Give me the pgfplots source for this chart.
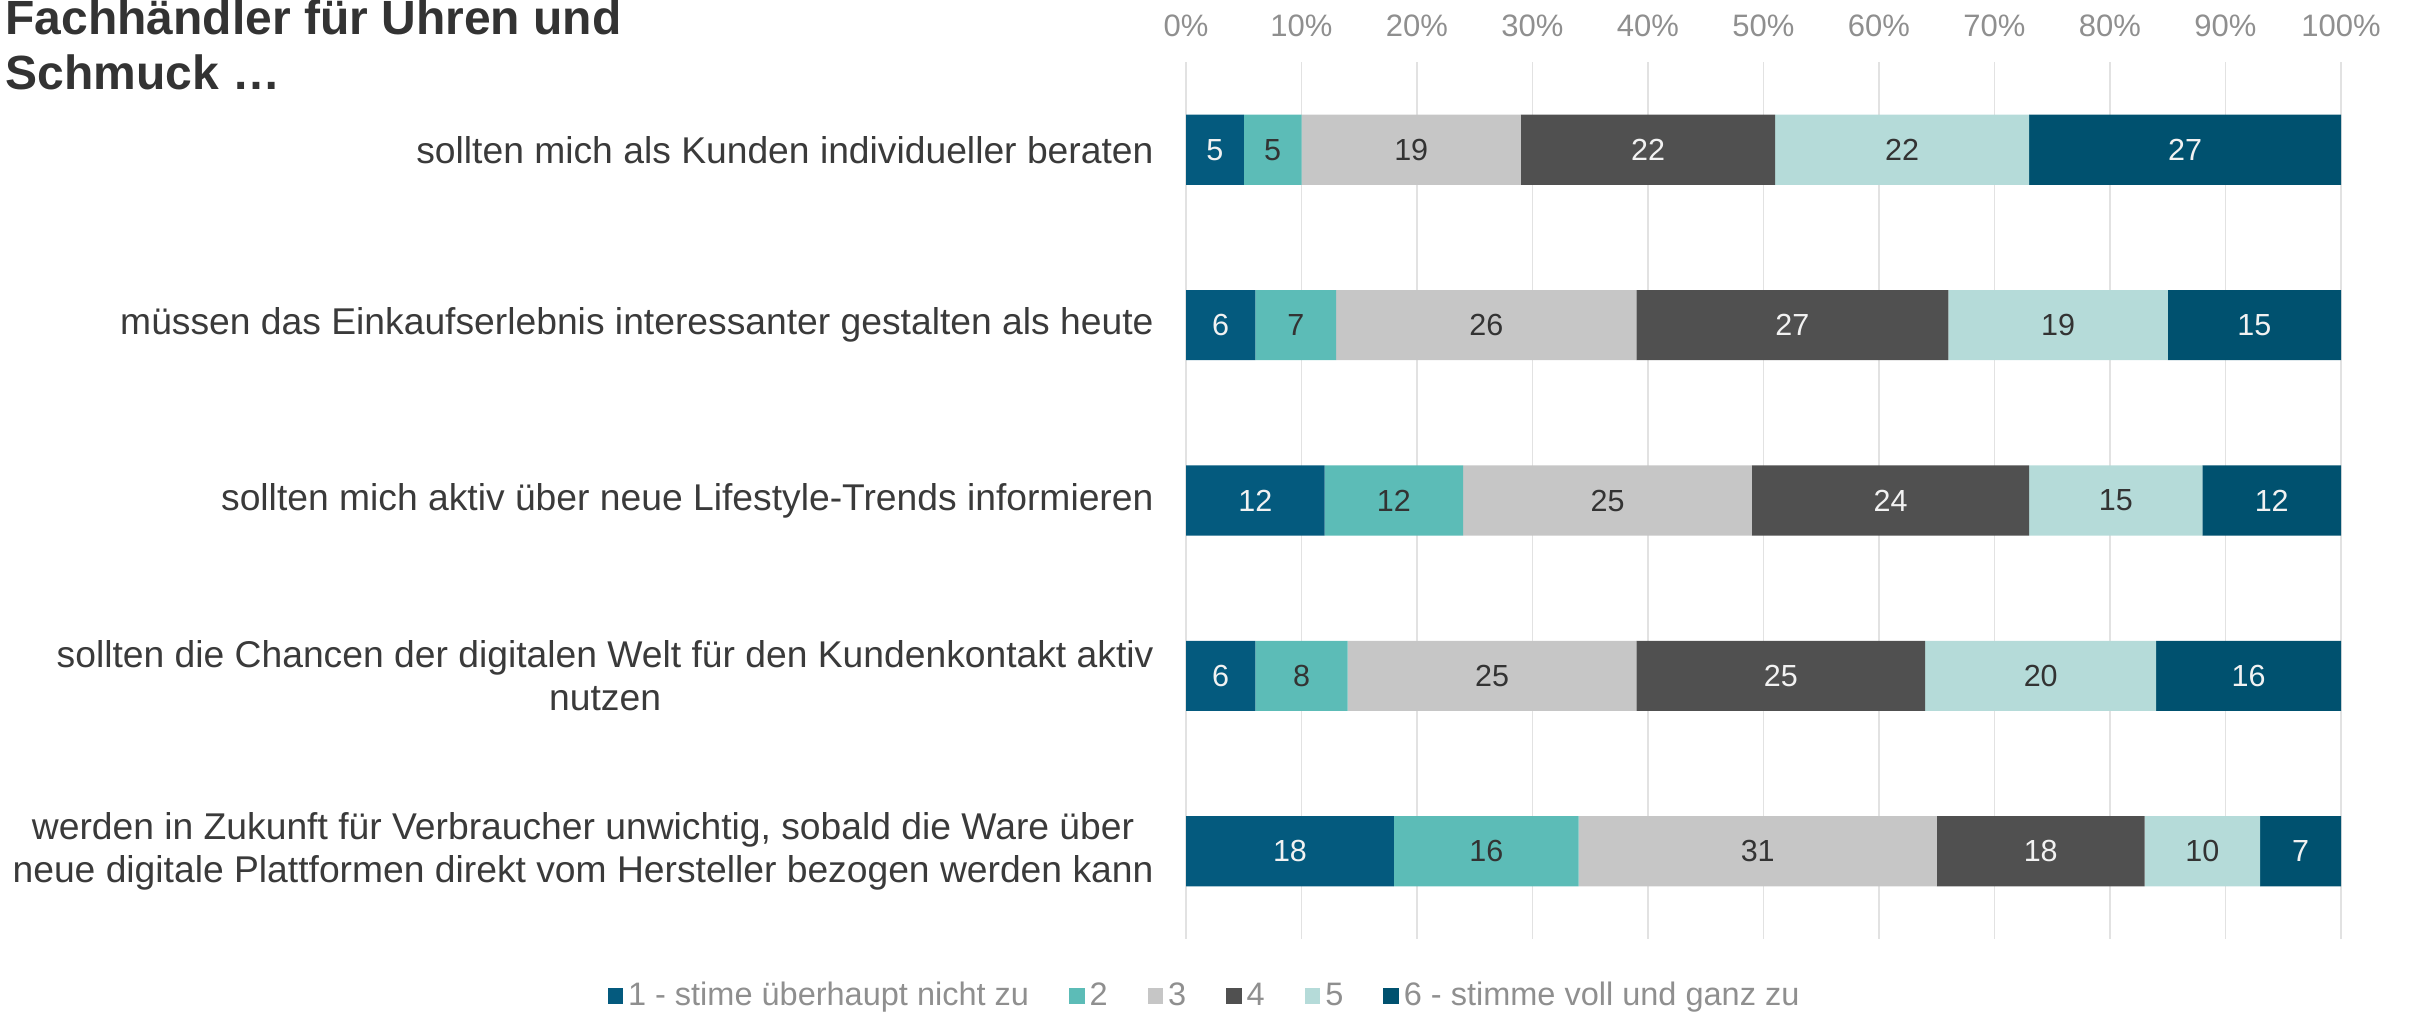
\documentclass[border=0pt]{standalone}
\usepackage{pgfplots}
\pgfplotsset{compat=1.18}
\usepackage{pgfplotstable}
\usepackage{fontspec}
\setmainfont{Liberation Sans}
\definecolor{c1}{HTML}{045A7E}
\definecolor{c2}{HTML}{5CBCB7}
\definecolor{c3}{HTML}{C6C6C6}
\definecolor{c4}{HTML}{505050}
\definecolor{c5}{HTML}{B5DBD9}
\definecolor{c6}{HTML}{00516F}
\definecolor{titlec}{HTML}{333333}
\definecolor{labc}{HTML}{3A3A3A}
\definecolor{tickc}{HTML}{8F8F8F}
\definecolor{gridc}{HTML}{E2E2E2}
\definecolor{whitec}{HTML}{F2F2F2}
\definecolor{darkc}{HTML}{333333}
\pgfplotsset{/pgf/number format/assume math mode=true,
  sq/.style={legend image code/.code={\fill[##1] (0pt,-3.2pt) rectangle (6.2pt,3.2pt);}}}
\pgfplotstableread{
y c1 c2 c3 c4 c5 c6
4 5 5 19 22 22 27
3 6 7 26 27 19 15
2 12 12 25 24 15 12
1 6 8 25 25 20 16
0 18 16 31 18 10 7
}\data
\begin{document}
\begin{tikzpicture}
\path[use as bounding box] (0,0) rectangle (965.2pt,-404.4pt);
\node[anchor=base west, inner sep=0pt, text=titlec, font=\fontsize{19.2}{22}\selectfont\bfseries] at (2pt,-13.6pt) {Fachhändler für Uhren und};
\node[anchor=base west, inner sep=0pt, text=titlec, font=\fontsize{19.2}{22}\selectfont\bfseries] at (2pt,-35.7pt) {Schmuck …};
\begin{axis}[
  at={(474.4pt,-375.6pt)}, anchor=south west,
  scale only axis, width=462pt, height=350.8pt,
  xbar stacked, bar width=0.4,
  xmin=0, xmax=100, ymin=-0.5, ymax=4.5,
  xtick={0,10,...,100},
  xticklabel pos=right,
  xticklabel={\pgfmathprintnumber{\tick}\%},
  xticklabel style={anchor=base, yshift=10.4pt, text=tickc, font=\fontsize{12.4}{14}\selectfont, inner sep=0pt},
  ytick={0,1,2,3,4},
  yticklabels={{werden in Zukunft für Verbraucher unwichtig, sobald die Ware über\\neue digitale Plattformen direkt vom Hersteller bezogen werden kann},
    {sollten die Chancen der digitalen Welt für den Kundenkontakt aktiv\\nutzen},
    {sollten mich aktiv über neue Lifestyle-Trends informieren},
    {müssen das Einkaufserlebnis interessanter gestalten als heute},
    {sollten mich als Kunden individueller beraten}},
  yticklabel style={anchor=east, align=center, inner sep=0pt, xshift=-12.8pt, text=labc, font=\fontsize{14.9}{17}\selectfont},
  axis line style={draw=none},
  major tick length=0pt,
  xmajorgrids, grid style={draw=gridc, line width=0.6pt},
  legend columns=6,
  legend style={at={(0.0173,-0.065)}, anchor=center, draw=none, fill=none, inner sep=0pt,
    font=\fontsize{13}{15}\selectfont, text=tickc,
    /tikz/every even column/.append style={column sep=14pt}},
]
\addplot[fill=c1, draw=none, sq] table[x=c1, y=y]{\data};
\addlegendentry{1 - stime überhaupt nicht zu}
\addplot[fill=c2, draw=none, sq] table[x=c2, y=y]{\data};
\addlegendentry{2}
\addplot[fill=c3, draw=none, sq] table[x=c3, y=y]{\data};
\addlegendentry{3}
\addplot[fill=c4, draw=none, sq] table[x=c4, y=y]{\data};
\addlegendentry{4}
\addplot[fill=c5, draw=none, sq] table[x=c5, y=y]{\data};
\addlegendentry{5}
\addplot[fill=c6, draw=none, sq] table[x=c6, y=y]{\data};
\addlegendentry{6 - stimme voll und ganz zu}
\end{axis}
\begin{axis}[
  at={(474.4pt,-375.6pt)}, anchor=south west,
  scale only axis, width=462pt, height=350.8pt,
  xmin=0, xmax=100, ymin=-0.5, ymax=4.5,
  hide axis,
  point meta=explicit,
  nodes near coords,
  nodes near coords style={anchor=center, inner sep=0pt, font=\fontsize{12.2}{14}\selectfont},
]
\addplot[only marks, mark=*, mark size=0pt, mark options={draw=none,fill=none}, nodes near coords style={text=whitec}]
  table[x expr=\thisrow{c1}/2, y=y, meta=c1]{\data};
\addplot[only marks, mark=*, mark size=0pt, mark options={draw=none,fill=none}, nodes near coords style={text=darkc}]
  table[x expr=\thisrow{c1}+\thisrow{c2}/2, y=y, meta=c2]{\data};
\addplot[only marks, mark=*, mark size=0pt, mark options={draw=none,fill=none}, nodes near coords style={text=darkc}]
  table[x expr=\thisrow{c1}+\thisrow{c2}+\thisrow{c3}/2, y=y, meta=c3]{\data};
\addplot[only marks, mark=*, mark size=0pt, mark options={draw=none,fill=none}, nodes near coords style={text=whitec}]
  table[x expr=\thisrow{c1}+\thisrow{c2}+\thisrow{c3}+\thisrow{c4}/2, y=y, meta=c4]{\data};
\addplot[only marks, mark=*, mark size=0pt, mark options={draw=none,fill=none}, nodes near coords style={text=darkc}]
  table[x expr=\thisrow{c1}+\thisrow{c2}+\thisrow{c3}+\thisrow{c4}+\thisrow{c5}/2, y=y, meta=c5]{\data};
\addplot[only marks, mark=*, mark size=0pt, mark options={draw=none,fill=none}, nodes near coords style={text=whitec}]
  table[x expr=\thisrow{c1}+\thisrow{c2}+\thisrow{c3}+\thisrow{c4}+\thisrow{c5}+\thisrow{c6}/2, y=y, meta=c6]{\data};
\end{axis}
\end{tikzpicture}
\end{document}
